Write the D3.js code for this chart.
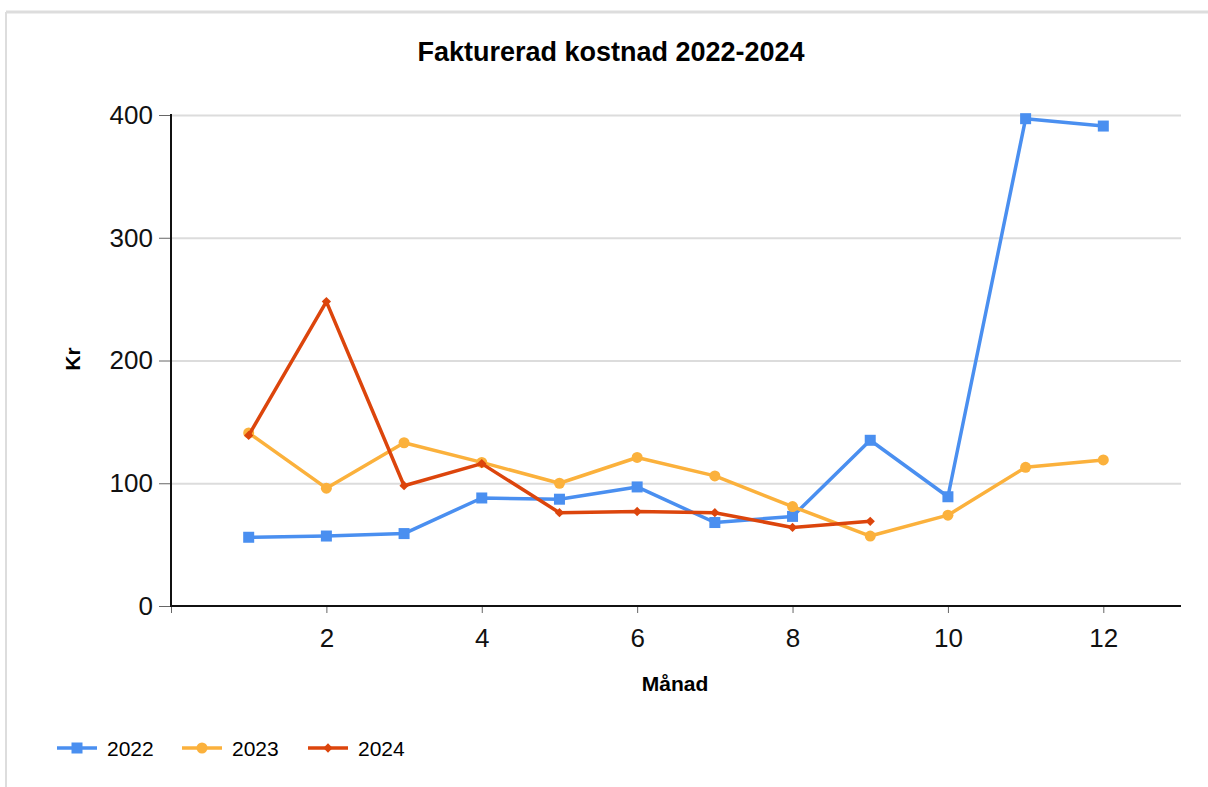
<!DOCTYPE html>
<meta charset="utf-8">
<style>
  body { margin: 0; background: #fff; font-family: "Liberation Sans", Arial, sans-serif; }
  .grid line { stroke: #dcdcdc; stroke-width: 2; }
  .grid path { display: none; }
  .axis text { font-size: 26px; fill: #111; }
  .axis line { stroke: #666; }
</style>
<svg width="1208" height="787"></svg>
<script src="https://cdn.jsdelivr.net/npm/d3@7"></script>
<script>
var months = [1,2,3,4,5,6,7,8,9,10,11,12];
var v2022 = [56, 57, 59, 88, 87, 97, 68, 73, 135, 89, 397, 391];
var v2023 = [141, 96, 133, 117, 100, 121, 106, 81, 57, 74, 113, 119];
var v2024 = [139, 248, 98, 116, 76, 77, 76, 64, 69];
var xTicks = [0, 2, 4, 6, 8, 10, 12];
var yTicks = [0, 100, 200, 300, 400];

var series = [
  {name: "2022", values: v2022, color: "#4a8ff0", shape: "square"},
  {name: "2023", values: v2023, color: "#fbb13c", shape: "circle"},
  {name: "2024", values: v2024, color: "#dc450c", shape: "diamond"}
];

var svg = d3.select("svg");

// panel border (top + left)
svg.append("line").attr("x1", 6).attr("x2", 1208).attr("y1", 12).attr("y2", 12)
  .attr("stroke", "#dddddd").attr("stroke-width", 3);
svg.append("line").attr("x1", 6).attr("x2", 6).attr("y1", 12).attr("y2", 787)
  .attr("stroke", "#dddddd").attr("stroke-width", 2);

var x = d3.scaleLinear().domain([0, 13]).range([171, 1181]);
var y = d3.scaleLinear().domain([0, 400]).range([606, 115]);

// gridlines
svg.append("g").attr("class", "grid")
  .attr("transform", "translate(171,0)")
  .call(d3.axisRight(y).tickValues(yTicks.slice(1)).tickSize(1010).tickFormat(""));

// y axis
var ya = svg.append("g").attr("class", "axis")
  .attr("transform", "translate(171,0)")
  .call(d3.axisLeft(y).tickValues(yTicks).tickSize(12).tickPadding(6));
ya.select(".domain").remove();

// x axis
var xa = svg.append("g").attr("class", "axis")
  .attr("transform", "translate(0,606)")
  .call(d3.axisBottom(x).tickValues(xTicks).tickSize(7).tickPadding(16)
    .tickFormat(function(d) { return d === 0 ? "" : d; }));
xa.select(".domain").remove();

svg.append("line").attr("x1", 171).attr("x2", 171).attr("y1", 114).attr("y2", 607)
  .attr("stroke", "#111").attr("stroke-width", 2);
svg.append("line").attr("x1", 170).attr("x2", 1181).attr("y1", 606).attr("y2", 606)
  .attr("stroke", "#111").attr("stroke-width", 2);

var line = d3.line()
  .x(function(d, i) { return x(months[i]); })
  .y(function(d) { return y(d); });

function marker(g, shape, color, cx, cy) {
  if (shape === "square") {
    g.append("rect").attr("x", cx - 5.5).attr("y", cy - 5.5).attr("width", 11).attr("height", 11).attr("fill", color);
  } else if (shape === "circle") {
    g.append("circle").attr("cx", cx).attr("cy", cy).attr("r", 5.5).attr("fill", color);
  } else {
    g.append("path").attr("d", d3.symbol(d3.symbolDiamond2, 55)()).attr("transform", "translate(" + cx + "," + cy + ")").attr("fill", color);
  }
}

series.forEach(function(s) {
  var g = svg.append("g");
  g.append("path").datum(s.values).attr("d", line)
    .attr("fill", "none").attr("stroke", s.color).attr("stroke-width", 3.5)
    .attr("stroke-linejoin", "round");
  s.values.forEach(function(v, i) { marker(g, s.shape, s.color, x(months[i]), y(v)); });
});

// title and axis titles
svg.append("text").attr("x", 611).attr("y", 61).attr("text-anchor", "middle")
  .style("font-size", "27px").style("font-weight", "bold").text("Fakturerad kostnad 2022-2024");
svg.append("text").attr("transform", "translate(80,359) rotate(-90)").attr("text-anchor", "middle")
  .style("font-size", "21px").style("font-weight", "bold").text("Kr");
svg.append("text").attr("x", 675).attr("y", 691).attr("text-anchor", "middle")
  .style("font-size", "21px").style("font-weight", "bold").text("Månad");

// legend
var lx = [57, 182, 308];
series.forEach(function(s, i) {
  var g = svg.append("g");
  g.append("line").attr("x1", lx[i]).attr("x2", lx[i] + 40).attr("y1", 748).attr("y2", 748)
    .attr("stroke", s.color).attr("stroke-width", 3.5);
  marker(g, s.shape, s.color, lx[i] + 20, 748);
  g.append("text").attr("x", lx[i] + 50).attr("y", 756).style("font-size", "21px").text(s.name);
});
</script>
